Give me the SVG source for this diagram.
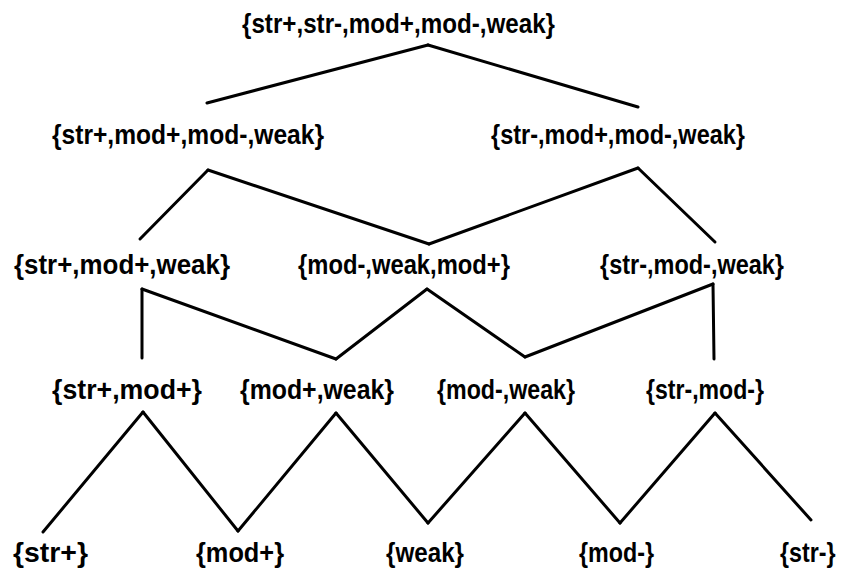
<svg xmlns="http://www.w3.org/2000/svg" width="841" height="571" viewBox="0 0 841 571">
<style>
text{font-family:"Liberation Sans Narrow","Liberation Sans",Arial,sans-serif;font-weight:bold;font-size:28px;fill:#000}
.e{stroke:#000;stroke-width:3;stroke-linecap:round;fill:none}
</style>
<rect width="841" height="571" fill="#fff"/>
<g id="connectors">
<line class="e" x1="428" y1="45" x2="207" y2="103"/>
<line class="e" x1="428" y1="45" x2="638" y2="107"/>
<line class="e" x1="208" y1="170" x2="140" y2="239"/>
<line class="e" x1="208" y1="170" x2="429" y2="244"/>
<line class="e" x1="638" y1="168" x2="429" y2="244"/>
<line class="e" x1="638" y1="168" x2="715" y2="242"/>
<line class="e" x1="142" y1="289" x2="142" y2="358"/>
<line class="e" x1="142" y1="289" x2="336" y2="359"/>
<line class="e" x1="427" y1="289" x2="336" y2="359"/>
<line class="e" x1="427" y1="289" x2="525" y2="357"/>
<line class="e" x1="713" y1="284" x2="525" y2="357"/>
<line class="e" x1="713" y1="284" x2="714" y2="359"/>
<line class="e" x1="143" y1="412" x2="43" y2="532"/>
<line class="e" x1="143" y1="412" x2="238" y2="531"/>
<line class="e" x1="336" y1="413" x2="238" y2="531"/>
<line class="e" x1="336" y1="413" x2="428" y2="523"/>
<line class="e" x1="525" y1="413" x2="428" y2="523"/>
<line class="e" x1="525" y1="413" x2="620" y2="523"/>
<line class="e" x1="715" y1="413" x2="620" y2="523"/>
<line class="e" x1="715" y1="413" x2="811" y2="520"/>
</g>
<g id="n-all"><text x="242" y="33" textLength="313" lengthAdjust="spacingAndGlyphs">{str+,str-,mod+,mod-,weak}</text></g>
<g id="n-no-strminus"><text x="52" y="144" textLength="272" lengthAdjust="spacingAndGlyphs">{str+,mod+,mod-,weak}</text></g>
<g id="n-no-strplus"><text x="491" y="144" textLength="254" lengthAdjust="spacingAndGlyphs">{str-,mod+,mod-,weak}</text></g>
<g id="n-strplus-modplus-weak"><text x="14" y="274" textLength="216" lengthAdjust="spacingAndGlyphs">{str+,mod+,weak}</text></g>
<g id="n-modminus-weak-modplus"><text x="298" y="274" textLength="212" lengthAdjust="spacingAndGlyphs">{mod-,weak,mod+}</text></g>
<g id="n-strminus-modminus-weak"><text x="600" y="274" textLength="184" lengthAdjust="spacingAndGlyphs">{str-,mod-,weak}</text></g>
<g id="n-strplus-modplus"><text x="52" y="399" textLength="150" lengthAdjust="spacingAndGlyphs">{str+,mod+}</text></g>
<g id="n-modplus-weak"><text x="240" y="399" textLength="154" lengthAdjust="spacingAndGlyphs">{mod+,weak}</text></g>
<g id="n-modminus-weak"><text x="437" y="399" textLength="138" lengthAdjust="spacingAndGlyphs">{mod-,weak}</text></g>
<g id="n-strminus-modminus"><text x="646" y="399" textLength="118" lengthAdjust="spacingAndGlyphs">{str-,mod-}</text></g>
<g id="n-strplus"><text x="13" y="562" textLength="75" lengthAdjust="spacingAndGlyphs">{str+}</text></g>
<g id="n-modplus"><text x="196" y="562" textLength="88" lengthAdjust="spacingAndGlyphs">{mod+}</text></g>
<g id="n-weak"><text x="386" y="562" textLength="78" lengthAdjust="spacingAndGlyphs">{weak}</text></g>
<g id="n-modminus"><text x="579" y="562" textLength="75" lengthAdjust="spacingAndGlyphs">{mod-}</text></g>
<g id="n-strminus"><text transform="translate(780 562) scale(0.83 1)">{str-}</text></g>
</svg>
